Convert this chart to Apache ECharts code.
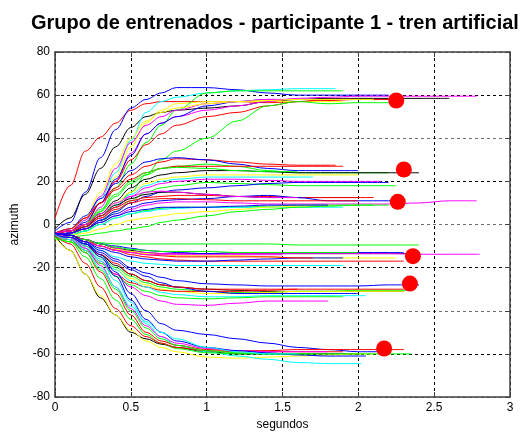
<!DOCTYPE html>
<html>
<head>
<meta charset="utf-8">
<script src="https://cdn.jsdelivr.net/npm/echarts@6/dist/echarts.min.js"></script>
<style>html,body{margin:0;padding:0;background:#fff}#c{width:525px;height:432px}</style>
</head>
<body>
<div id="c"></div>
<script>
// sample times (segundos) shared by every trajectory
const T = [0, 0.1, 0.2, 0.3, 0.4, 0.5, 0.6, 0.7, 0.8, 1.0, 1.2, 1.4, 1.6, 1.8, 2.0, 2.2, 2.4, 2.6];
// each trajectory: [colour, end time, azimuth values at T]
const g60 = [
  ['r', 2.25, [3, 18, 34, 40.5, 47, 53, 56, 57, 57, 57, 57, 56.5, 57, 57.5, 58, 58]],
  ['b', 2.2, [-3, 1, 15, 31, 44, 54, 58, 61, 63.5, 63.5, 62.5, 61, 60, 60, 60, 60]],
  ['k', 2.6, [-2, 3, 14, 26, 36, 45, 50, 52, 53, 54, 55, 57, 58, 58.5, 58.5, 58.5, 58.5, 58.5]],
  ['c', 1.85, [-4, -3, 2, 12, 24, 39, 52, 57, 59, 61, 62, 62.5, 63, 63]],
  ['y', 1.9, [-5, -4, 0, 10, 22, 36, 47, 53, 56, 57, 57, 57, 57, 57]],
  ['m', 2.78, [-5, -4, -1, 8, 20, 33, 42, 47, 50, 53, 55, 57, 58.5, 59, 59.5, 59.5, 59.5, 59.5]],
  ['g', 1.9, [-6, -5, -2, 6, 17, 28, 38, 46, 53, 61, 62, 62, 62, 62]],
  ['r', 2.0, [-5, -4, 0, 10, 20, 30, 37, 42, 46, 50, 52, 55, 57, 58, 58]],
  ['g', 2.3, [-5, -5, -3, 2, 8, 15, 23, 30, 34, 40, 48, 55, 57, 56, 56.5, 56.5]],
  ['b', 1.9, [-4, -3, 1, 10, 21, 32, 42, 47, 50, 55, 57, 58, 58, 58]],
  ['m', 2.0, [-6, -4, 2, 13, 26, 38, 46, 50, 53, 56, 57, 58, 58, 58, 58]],
  ['y', 2.1, [-4, -3, 3, 15, 28, 40, 48, 52, 54, 56, 57, 57.5, 58, 58, 58]]
];
const g24 = [
  ['r', 1.85, [-5, -3, 3, 10, 17, 23, 27, 29, 30.5, 30, 29, 28, 27.5, 27.5]],
  ['b', 2.0, [-4, -2, 4, 12, 19, 25, 29, 30.5, 31, 30, 28, 26, 25, 25, 25]],
  ['g', 2.2, [-5, -4, 0, 6, 13, 19, 23, 26, 27, 28, 27, 25, 24, 24, 24, 24]],
  ['k', 2.4, [-4, -3, 0, 5, 11, 17, 21, 23, 24, 25, 25, 24.5, 24, 24, 24, 24, 24]],
  ['y', 2.0, [-6, -5, -2, 4, 10, 15, 19, 21, 22, 23, 23, 23, 23, 23, 23]],
  ['m', 2.15, [-5, -4, -1, 3, 8, 13, 17, 19, 20, 21, 21, 20.5, 20, 20, 20, 20]],
  ['g', 2.25, [-6, -5, -3, 1, 6, 11, 15, 17, 18, 19.5, 19, 18.5, 18, 18, 18, 18]],
  ['b', 2.2, [-5, -4, -2, 2, 6, 10, 13, 15, 16, 17, 18, 19, 19.5, 19.5, 19.5, 19.5]],
  ['r', 1.9, [-4, -2, 3, 10, 16, 21, 24, 26, 27, 27, 27, 27, 27, 27]],
  ['c', 1.7, [-5, -4, -1, 4, 9, 14, 18, 20, 21, 22, 22, 22, 22]],
  ['g', 1.6, [-5, -4, 0, 7, 14, 20, 24, 26, 26.5, 26, 25, 24.5, 24.5]]
];
const g10 = [
  ['k', 2.0, [-5, -4, -1, 4, 9, 12, 14, 15, 15, 14, 13, 12.5, 12.5, 12.5, 12.5]],
  ['r', 2.1, [-4, -3, 0, 4, 8, 11, 12.5, 13, 13.5, 13.5, 13, 13, 12.5, 12.5, 12.5]],
  ['b', 2.3, [-5, -4, -2, 2, 5, 8, 10, 11, 11.5, 12, 13, 13.5, 12.5, 11, 11, 11]],
  ['m', 2.78, [-5, -4, -2, 1, 4, 7, 9, 10, 10.5, 10.5, 10, 9.5, 9.5, 9.5, 9.5, 9.5, 10, 11]],
  ['g', 2.1, [-6, -5, -3, 0, 3, 5, 6.5, 7.5, 8, 8, 8, 8.5, 9, 9, 9]],
  ['c', 1.9, [-6, -5, -3, 0, 3, 5, 6, 7, 7.5, 8, 8, 8, 8, 8]],
  ['y', 1.8, [-6, -5, -4, -2, 0, 2, 3, 4, 5, 6, 7, 8, 8.5, 8.5]],
  ['g', 2.2, [-6, -6, -5, -4, -3, -2, -1, 1, 2, 4, 6, 7, 8, 8.5, 9, 9]],
  ['b', 1.8, [-5, -4, -2, 1, 4, 6, 7, 8, 8, 8, 8.5, 9, 9, 9]],
  ['r', 2.0, [-4, -3, -1, 3, 7, 10, 11.5, 12, 12, 11.5, 11, 11, 11, 11, 11]],
  ['m', 1.6, [-4, -3, 0, 5, 10, 13, 15, 15.5, 15, 14, 13, 12.5, 12]]
];
const gm14 = [
  ['g', 2.4, [-7, -7, -8, -8.5, -9, -9, -9, -9, -9, -9, -9, -9, -9.5, -9.5, -9.5, -9.5, -9.5]],
  ['k', 2.35, [-4, -5, -7, -9, -11, -12, -13, -13.5, -13.5, -13.5, -13.5, -13.5, -13.5, -13.5, -13.5, -13.5, -13.5]],
  ['m', 2.8, [-5, -5, -7, -9, -11, -12.5, -13, -13.5, -13.5, -13.5, -13.5, -13.5, -13.5, -13.5, -13.5, -13.5, -13.8, -13.8]],
  ['b', 2.3, [-4, -5, -7, -9, -10, -11, -12, -12.5, -13, -13.5, -13, -13, -13, -13, -13, -13]],
  ['y', 2.25, [-5, -6, -8, -10, -11.5, -12.5, -13.5, -14, -14.5, -14.5, -14.5, -15, -15.5, -15.5, -15.5, -15.5]],
  ['r', 2.3, [-4, -5, -7, -10, -12, -14, -15, -16, -16.5, -17, -17, -17, -17, -17, -17, -17]],
  ['c', 1.9, [-5, -6, -9, -12, -15, -17, -18, -18.5, -19, -19, -19, -19, -19, -19]],
  ['b', 1.9, [-4, -5, -8, -11, -13, -15, -16, -16.5, -17, -17, -16.5, -16, -15.5, -15.5]],
  ['r', 1.7, [-5, -6, -8, -10, -12, -13, -14, -14.5, -15, -15, -15, -15, -15.5]],
  ['g', 2.0, [-5, -6, -7, -9, -10.5, -11.5, -12, -12.5, -12.5, -12.5, -13, -13, -13, -13, -13]],
  ['m', 1.5, [-6, -6, -8, -10, -12, -13, -14, -14, -14, -14, -14, -14]]
];
const gm30 = [
  ['b', 2.4, [-4, -5, -8, -12, -16, -20, -22.5, -24.5, -26, -27.5, -28, -28.5, -28.5, -28.5, -28.5, -28, -28]],
  ['k', 2.3, [-5, -6, -9, -14, -19, -23, -26, -28, -29, -30, -30.5, -31, -31, -31, -31, -31]],
  ['g', 2.35, [-5, -6, -10, -15, -20, -24, -27, -29, -30, -31, -31.5, -31.5, -31, -31, -30.5, -30.5]],
  ['y', 2.3, [-6, -7, -11, -16, -21, -25, -28, -30, -31, -32, -32, -31.5, -31, -31, -31, -31]],
  ['r', 2.3, [-5, -7, -12, -18, -23, -27, -29, -30.5, -31, -31, -31, -30.5, -30, -30, -30, -30]],
  ['m', 1.8, [-6, -7, -11, -17, -23, -29, -33, -35.5, -37, -37.5, -36.5, -35.5, -35.5, -35.5]],
  ['c', 2.05, [-5, -7, -11, -16, -21, -26, -29, -31.5, -32.5, -33.5, -33.5, -33, -33, -33, -33]],
  ['g', 1.9, [-6, -8, -12, -18, -24, -28, -31, -33, -34, -34.5, -34, -33.5, -33.5, -33.5]],
  ['b', 2.0, [-5, -6, -9, -13, -17, -21, -24, -27, -29, -31, -32, -32, -32, -32, -32]],
  ['r', 1.6, [-5, -6, -10, -14, -18, -23, -26, -28, -29, -30, -30, -30, -30]]
];
const gm60 = [
  ['k', 2.0, [-5, -12, -23, -34, -42, -50, -53, -55.5, -57, -59, -60, -60, -60, -60, -60]],
  ['y', 2.1, [-6, -12, -23, -33, -42, -49, -54, -57, -59, -61.5, -62, -61.5, -61, -60.5, -60, -60]],
  ['b', 2.2, [-4, -5, -8, -14, -22, -32, -40, -46, -49, -51, -53, -55, -57, -58, -59, -59]],
  ['c', 2.02, [-5, -6, -10, -17, -26, -36, -46, -52, -56, -59, -61, -62.5, -64, -64.5, -64.5]],
  ['r', 2.3, [-5, -7, -13, -22, -32, -42, -50, -54, -56, -58, -58.5, -58.5, -58, -58, -58, -58]],
  ['g', 2.35, [-6, -8, -15, -25, -35, -44, -51, -55, -57.5, -59.5, -60, -60, -60, -60, -60, -60]],
  ['r', 1.9, [-5, -9, -18, -29, -39, -47, -52, -55, -57, -58.5, -59, -59, -59, -59]],
  ['m', 1.8, [-5, -6, -11, -19, -29, -39, -47, -52, -55, -57.5, -58.5, -59, -59, -59]],
  ['b', 2.05, [-5, -6, -9, -15, -24, -35, -44, -50, -54, -57, -58.5, -59.5, -60.5, -61, -61]],
  ['g', 1.7, [-6, -8, -13, -21, -30, -40, -48, -53, -56, -58.5, -59.5, -60, -60]],
  ['c', 1.6, [-5, -7, -12, -20, -29, -38, -45, -50, -53, -57, -59, -60, -60]]
];
// red target markers [segundos, azimuth]
const targets = [[2.25, 57.5], [2.30, 25.5], [2.26, 10.5], [2.36, -14.7], [2.34, -27.4], [2.17, -57.5]];
const xTicks = ['0', '0.5', '1', '1.5', '2', '2.5', '3'];

const COLORS = {r: '#ff0000', g: '#00ff00', b: '#0000ff', c: '#00ffff', m: '#ff00ff', y: '#ffff00', k: '#000000'};

const series = [];
[g60, g24, g10, gm14, gm30, gm60].forEach(group => {
  group.forEach(([c, end, ys]) => {
    const pts = [];
    for (let i = 0; i < ys.length && i < T.length; i++) {
      if (T[i] < end) pts.push([T[i], ys[i]]);
    }
    pts.push([end, pts[pts.length - 1][1]]);
    series.push({
      type: 'line', data: pts, showSymbol: false, symbol: 'none',
      smooth: 0.35, smoothMonotone: 'x',
      lineStyle: {color: COLORS[c], width: 1}, itemStyle: {color: COLORS[c]},
      silent: true, z: 2
    });
  });
});
series.push({
  type: 'scatter', data: targets, symbol: 'circle', symbolSize: 16,
  itemStyle: {color: '#ff0000', opacity: 1}, z: 5, silent: true
});

const font = 'Arial, "Liberation Sans", Helvetica, sans-serif';
const chart = echarts.init(document.getElementById('c'), null, {renderer: 'canvas'});
chart.setOption({
  animation: false,
  backgroundColor: '#ffffff',
  title: {
    text: 'Grupo de entrenados - participante 1 - tren artificial',
    left: 26, top: 8,
    textStyle: {fontFamily: font, fontWeight: 'bold', fontSize: 20, color: '#000'}
  },
  grid: {left: 55, right: 15, top: 52, bottom: 35, containLabel: false, outerBoundsMode: 'none'},
  xAxis: [{
    type: 'value', min: 0, max: 3, interval: 0.5, position: 'bottom',
    name: 'segundos', nameLocation: 'middle', nameGap: 22,
    nameTextStyle: {fontFamily: font, fontSize: 12, color: '#000'},
    axisLine: {show: true, onZero: false, lineStyle: {color: '#404040', width: 1.5}},
    axisTick: {show: true, inside: true, length: 5, lineStyle: {color: '#404040'}},
    axisLabel: {fontFamily: font, fontSize: 12, color: '#000', margin: 5,
      formatter: v => xTicks[Math.round(v / 0.5)]},
    splitLine: {show: true, lineStyle: {color: '#000', type: [3, 3], width: 1}}
  }, {
    type: 'value', min: 0, max: 3, interval: 0.5, position: 'top',
    axisLine: {show: true, onZero: false, lineStyle: {color: '#404040', width: 1.5}},
    axisTick: {show: true, inside: true, length: 5, lineStyle: {color: '#404040'}},
    axisLabel: {show: false}, splitLine: {show: false}
  }],
  yAxis: [{
    type: 'value', min: -80, max: 80, interval: 20, position: 'left',
    name: 'azimuth', nameLocation: 'middle', nameGap: 34, nameRotate: 90,
    nameTextStyle: {fontFamily: font, fontSize: 12, color: '#000'},
    axisLine: {show: true, onZero: false, lineStyle: {color: '#404040', width: 1.5}},
    axisTick: {show: true, inside: true, length: 5, lineStyle: {color: '#404040'}},
    axisLabel: {fontFamily: font, fontSize: 12, color: '#000', margin: 5},
    splitLine: {show: true, lineStyle: {color: ['#6e6e6e', '#000'], type: [3, 3], width: 1}}
  }, {
    type: 'value', min: -80, max: 80, interval: 20, position: 'right',
    axisLine: {show: true, onZero: false, lineStyle: {color: '#404040', width: 1.5}},
    axisTick: {show: true, inside: true, length: 5, lineStyle: {color: '#404040'}},
    axisLabel: {show: false}, splitLine: {show: false}
  }],
  series: series
});
</script>
</body>
</html>
